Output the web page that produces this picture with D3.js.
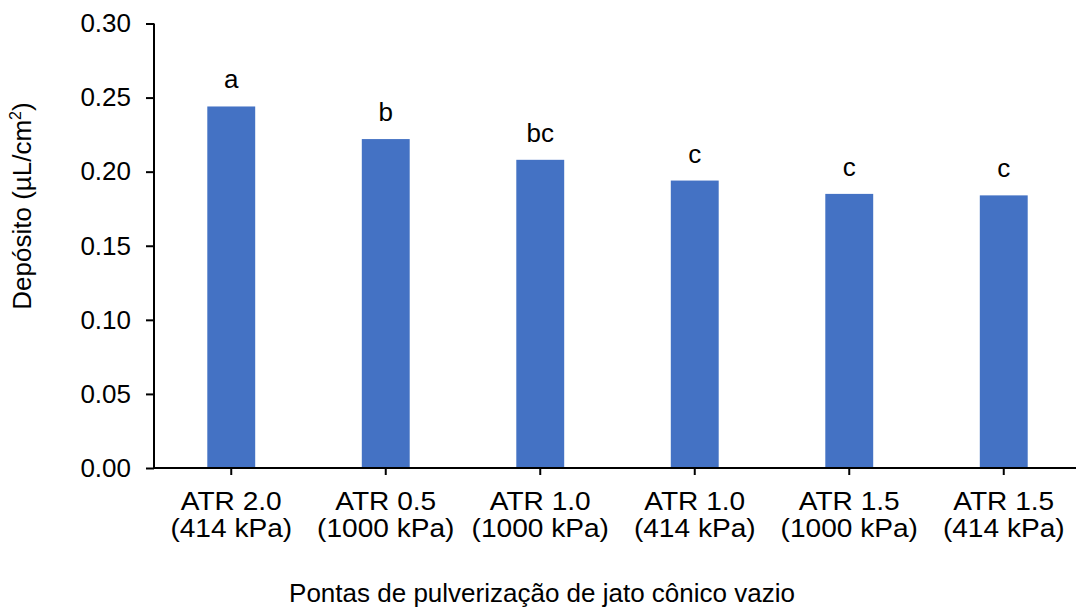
<!DOCTYPE html>
<html><head><meta charset="utf-8">
<script src="https://cdn.jsdelivr.net/npm/d3@7"></script>
<style>body{margin:0;background:#fff}svg{display:block}text{font-family:"Liberation Sans",Arial,sans-serif;fill:#000}</style>
</head><body><svg id="c" width="1076" height="610"></svg>
<script>
const categories = ["ATR 2.0|(414 kPa)","ATR 0.5|(1000 kPa)","ATR 1.0|(1000 kPa)","ATR 1.0|(414 kPa)","ATR 1.5|(1000 kPa)","ATR 1.5|(414 kPa)"];
const values = [0.244, 0.222, 0.208, 0.194, 0.185, 0.184];
const letters = ["a","b","bc","c","c","c"];
const yTicks = [0,0.05,0.10,0.15,0.20,0.25,0.30];

const FS = 26;
const svg = d3.select("#c");
const L=154, R=1081, T=23.5, B=468;
const x = d3.scaleBand().domain(categories).range([L,R]).paddingInner(0.69).paddingOuter(0.345);
const y = d3.scaleLinear().domain([0,0.3]).range([B,T]);

svg.selectAll("rect.bar").data(values).join("rect").attr("class","bar")
  .attr("x",(d,i)=>x(categories[i])).attr("width",x.bandwidth())
  .attr("y",d=>y(d)).attr("height",d=>B-y(d)).attr("fill","#4472C4");

svg.selectAll("text.lab").data(values).join("text").attr("class","lab")
  .attr("x",(d,i)=>x(categories[i])+x.bandwidth()/2).attr("y",d=>y(d)-18)
  .attr("text-anchor","middle").attr("font-size",FS).text((d,i)=>letters[i]);

const ya = svg.append("g").attr("transform",`translate(${L},0)`)
  .call(d3.axisLeft(y).tickValues(yTicks).tickFormat(d3.format(".2f")).tickSize(8).tickPadding(15));
ya.select(".domain").attr("stroke","#000").attr("stroke-width",2).attr("d",`M0,${T}V${B}`);
ya.selectAll(".tick line").attr("stroke","#000").attr("stroke-width",2);
ya.selectAll(".tick text").attr("font-size",FS).attr("font-family",'"Liberation Sans",Arial,sans-serif').attr("fill","#000");

const xa = svg.append("g").attr("transform",`translate(0,${B})`)
  .call(d3.axisBottom(x).tickSize(7).tickFormat(""));
xa.select(".domain").attr("stroke","#000").attr("stroke-width",2).attr("d",`M${L},0H1076`);
xa.selectAll(".tick line").attr("stroke","#000").attr("stroke-width",2);
xa.selectAll(".tick").each(function(d){
  const parts=d.split("|");
  const g=d3.select(this);
  parts.forEach((p,k)=>{
    g.append("text").attr("text-anchor","middle").attr("font-size",FS)
      .attr("font-family",'"Liberation Sans",Arial,sans-serif').attr("fill","#000")
      .attr("transform",`translate(0,${42+k*27}) scale(1.08,1)`).text(p);
  });
});

svg.append("text").attr("transform","translate(31,206) rotate(-90)").attr("text-anchor","middle")
  .attr("font-size",FS).html('Depósito (µL/cm<tspan dy="-10" font-size="16">2</tspan><tspan dy="10">)</tspan>');
svg.append("text").attr("x",542).attr("y",602).attr("text-anchor","middle").attr("font-size",FS)
  .text("Pontas de pulverização de jato cônico vazio");
</script></body></html>
